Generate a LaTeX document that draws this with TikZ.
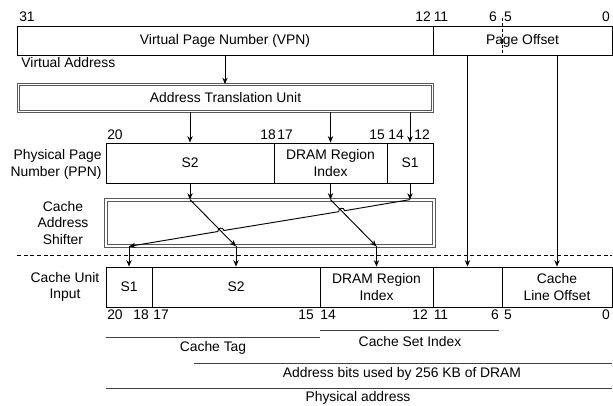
\documentclass[tikz,border=0pt]{standalone}
\usepackage{fontspec}
\setmainfont{Liberation Sans}
\usetikzlibrary{arrows.meta,calc}

\begin{document}
\begin{tikzpicture}[x=0.75pt, y=-0.75pt, line width=0.7pt,
  every node/.style={font=\fontsize{10.4}{12.6}\selectfont, inner sep=0pt},
  field/.style={draw, minimum height=30pt, align=center},
  unit/.style={draw=black!65, double, double distance=1.3pt, line width=0.6pt},
  arr/.style={-{Stealth[length=4.8pt, width=4pt]}},
  span/.style={draw=black!75}]
  \useasboundingbox (0,0) rectangle (613,406);

  % Virtual address
  \node[field, minimum width=312pt, minimum height=21.75pt] (vpn) at (225,40.5) {Virtual Page Number (VPN)};
  \node[field, minimum width=134.25pt, minimum height=21.75pt] (pgoff) at (522.5,40.5) {Page Offset};
  \node[anchor=west] (valbl) at (21,63) {Virtual Address};
  \node (v31) at (27,17) {31};
  \node (v12) at (423,17) {12};
  \node (v11) at (441,17) {11};
  \node (v6) at (493,17) {6};
  \node (v5) at (508,17) {5};
  \node (v0) at (606,17) {0};
  \coordinate (pgsplit) at (502,18);
  \draw[dashed, dash pattern=on 2.5pt off 1.5pt] (pgsplit) -- (pgsplit |- pgoff.south); % split of page offset

  % Address translation unit
  \node[field, unit, minimum width=310.5pt, minimum height=20.25pt] (atu) at (225.5,98) {Address Translation Unit};
  \draw[arr] (vpn.south) -- (vpn.south |- atu.north);

  % Physical page number
  \node[field, minimum width=126pt] (pS2) at (190,163) {S2};
  \node[field, minimum width=84.75pt] (pDram) at (330.5,163) {DRAM Region\\Index};
  \node[field, minimum width=34.5pt] (pS1) at (410,163) {S1};
  \node[align=right, anchor=east] (ppnlbl) at (102,164.5) {Physical Page\\Number (PPN)};
  \node (p20) at (115,135) {20};
  \node (p18) at (268,135) {18};
  \node (p17) at (285,135) {17};
  \node (p15) at (377,135) {15};
  \node (p14) at (396,135) {14};
  \node (p12) at (422,135) {12};
  \foreach \f in {pS2,pDram,pS1}
    \draw[arr] (\f |- atu.south) -- (\f.north);

  % Cache unit input
  \node[field, minimum width=34.5pt] (cS1) at (129,287) {S1};
  \node[field, minimum width=126pt] (cS2) at (236,287) {S2};
  \node[field, minimum width=84.75pt] (cDram) at (376.5,287) {DRAM Region\\Index};
  \node[field, minimum width=51.75pt] (cSet) at (467.5,287) {};
  \node[field, minimum width=82.5pt] (cLine) at (557,287) {Cache\\Line Offset};
  \node[align=center] (cuilbl) at (65,287) {Cache Unit\\Input};
  \node (c20) at (115,315) {20};
  \node (c18) at (141,315) {18};
  \node (c17) at (161,315) {17};
  \node (c15) at (306,315) {15};
  \node (c14) at (328,315) {14};
  \node (c12) at (420,315) {12};
  \node (c11) at (441,315) {11};
  \node (c6) at (495,315) {6};
  \node (c5) at (508,315) {5};
  \node (c0) at (606,315) {0};
  \draw[arr] (cSet |- pgoff.south) -- (cSet.north);
  \draw[arr] (cLine |- pgoff.south) -- (cLine.north);

  % Cache address shifter
  \node[field, unit, minimum width=246pt, minimum height=34.5pt] (shf) at (270,223) {};
  \node[align=center] (shflbl) at (63,223) {Cache\\Address\\Shifter};
  \foreach \f in {pS2,pDram,pS1}
    \draw[arr] (\f.south) -- (\f |- shf.north);
  \draw[arr] (pS2 |- shf.north) -- (cS2 |- shf.south);
  \draw[arr] (pDram |- shf.north) -- (cDram |- shf.south);
  \draw[arr] (pS1 |- shf.north) -- (344.7,210.7)
    .. controls (344.0,206.8) and (338.0,207.8) .. (338.7,211.7) -- (223.9,230.5)
    .. controls (223.2,226.6) and (217.2,227.6) .. (217.9,231.5) -- (cS1 |- shf.south); % S1 hops over
  \foreach \f in {cS1,cS2,cDram}
    \draw[arr] (\f |- shf.south) -- (\f.north);

  % Cut line
  \coordinate (cutL) at (17,255);
  \coordinate (cutR) at (612,255);
  \draw[dashed, dash pattern=on 3pt off 2pt] (cutL) -- (cutR);

  % Bit ranges
  \coordinate (tagL) at (106,337);
  \coordinate (tagR) at (320,337);
  \draw[span] (tagL) -- (tagR);
  \node (taglbl) at (213,348) {Cache Tag};
  \coordinate (setL) at (320,330);
  \coordinate (setR) at (499,330);
  \draw[span] (setL) -- (setR);
  \node (setlbl) at (410,342) {Cache Set Index};
  \coordinate (dramL) at (194,363);
  \coordinate (dramR) at (612,363);
  \draw[span] (dramL) -- (dramR);
  \node (dramlbl) at (402,374) {Address bits used by 256 KB of DRAM};
  \coordinate (physL) at (106,388);
  \coordinate (physR) at (612,388);
  \draw[span] (physL) -- (physR);
  \node (physlbl) at (358,398) {Physical address};
\end{tikzpicture}
\end{document}
